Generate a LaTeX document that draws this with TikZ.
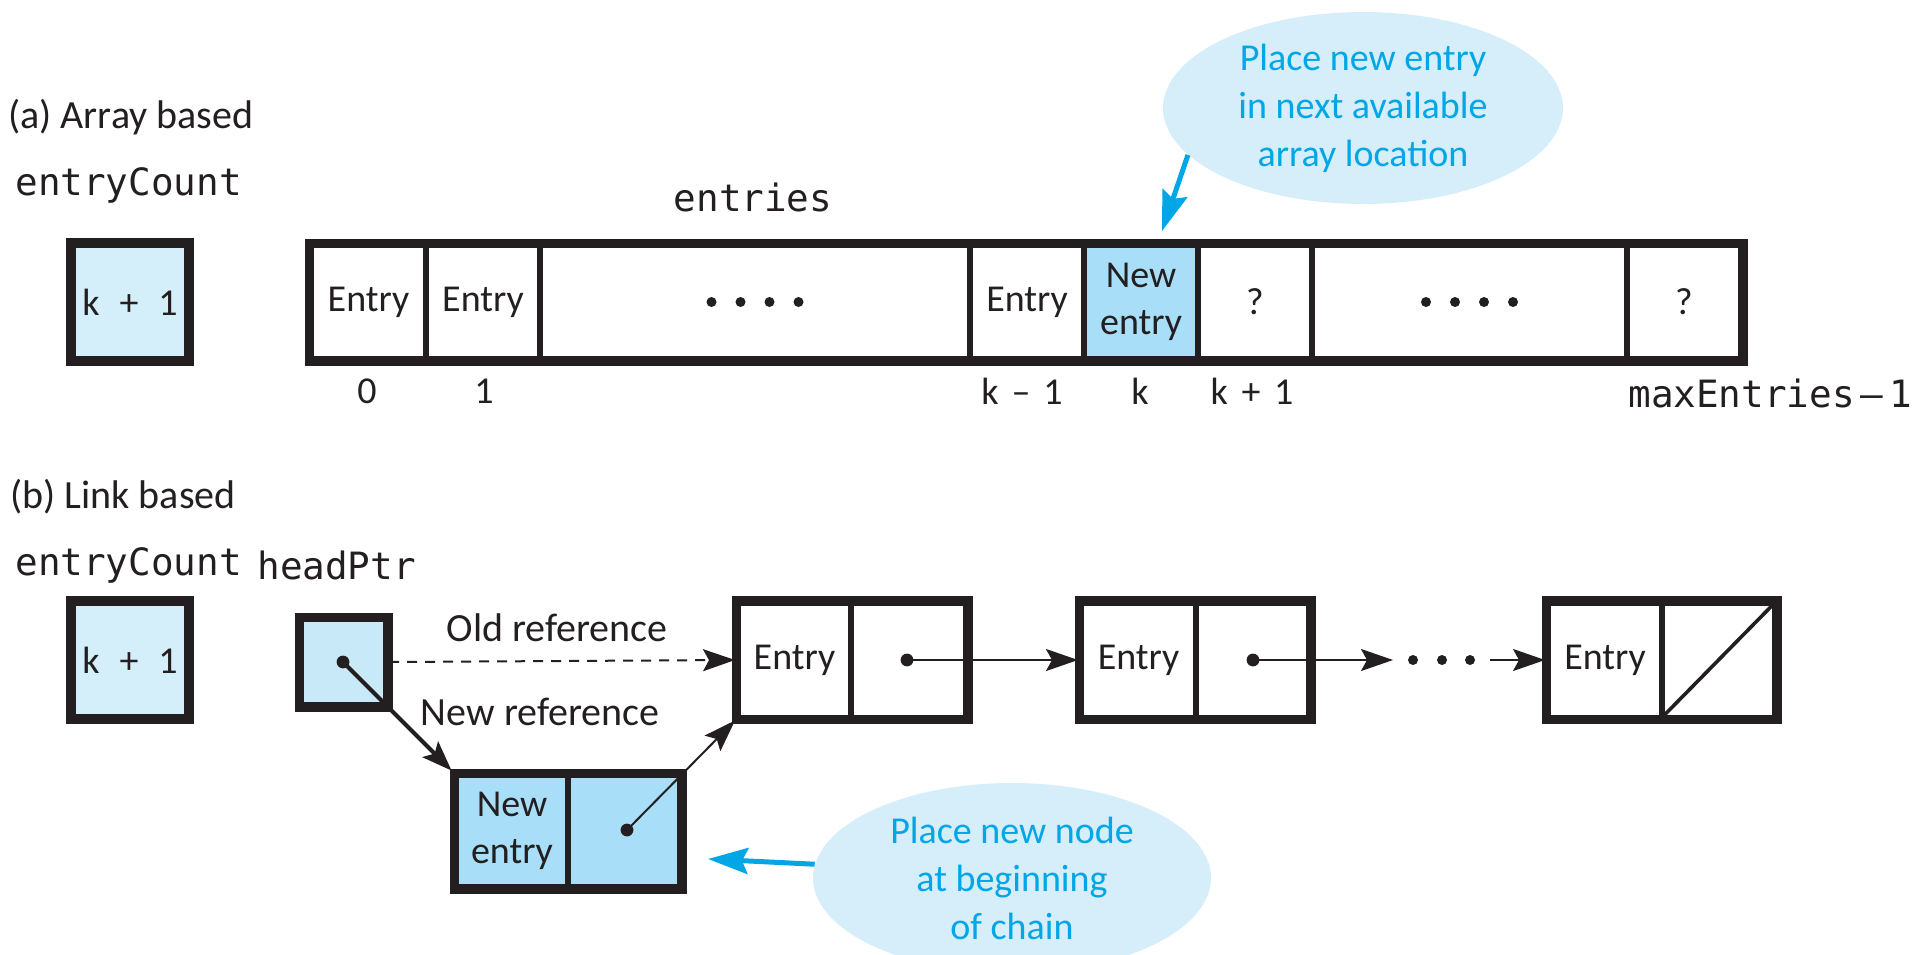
\documentclass[tikz,border=0pt]{standalone}
\usepackage{fontspec}
\setmainfont{Carlito}
\setmonofont{DejaVu Sans Mono}
\usetikzlibrary{arrows.meta,shapes.geometric}
\definecolor{ink}{RGB}{35,31,32}
\definecolor{cyanC}{RGB}{0,166,230}
\definecolor{paleB}{RGB}{212,238,250}
\definecolor{ptrB}{RGB}{200,233,248}
\definecolor{newB}{RGB}{168,222,247}
\definecolor{ellB}{RGB}{213,238,250}
\begin{document}
\begin{tikzpicture}[x=0.5pt,y=-0.5pt,
  txt/.style={font=\fontsize{19}{23.5}\selectfont, text=ink, inner sep=0pt, align=center},
  head/.style={font=\fontsize{20}{24}\selectfont, text=ink, inner sep=0pt},
  mono/.style={font=\ttfamily\fontsize{18.8}{22}\selectfont, text=ink, inner sep=0pt},
  cell/.style={draw=ink, line width=3pt, inner sep=0pt, minimum height=57pt, align=center,
    font=\fontsize{19}{23.5}\selectfont, text=ink},
  lcell/.style={cell, minimum height=57.5pt},
  frame/.style={draw=ink, line width=3.5pt},
  ptdot/.style={circle, fill=ink, inner sep=0pt, minimum size=6.4pt},
  sdot/.style={circle, fill=ink, inner sep=0pt, minimum size=5pt},
  callout/.style={ellipse, fill=ellB, draw=none, inner sep=0pt, text=cyanC, align=center,
    font=\fontsize{19}{24}\selectfont},
  arr/.style={draw=ink, line width=1pt, -{Stealth[length=16pt,width=11pt,inset=3pt]}},
  thickarr/.style={draw=ink, line width=2pt, -{Stealth[length=15pt,width=11pt,inset=3pt]}},
  dasharr/.style={arr, dash pattern=on 5pt off 4pt},
  callarr/.style={draw=cyanC, line width=2.5pt, -{Stealth[length=20pt,width=13pt,inset=3pt]}}
]
\useasboundingbox (0,0) rectangle (1920,954);

% ---------- (a) Array based ----------
\node[head, anchor=west] (ha) at (8,117) {(a) Array based};
\node[mono, anchor=west] (eca) at (15,185) {entryCount};
\node[mono] (ent) at (753,197) {entries};

\node[cell, fill=paleB, minimum width=57pt, line width=3.25pt] (ca) at (130,302) {k\hspace{10pt}+\hspace{10pt}1};

\node[cell, minimum width=57.5pt] (a0) at (368.5,302) {Entry};
\node[cell, minimum width=57pt] (a1) at (483,302) {Entry};
\node[cell, minimum width=215pt] (ad1) at (755,302) {};
\node[cell, minimum width=57pt] (ak1) at (1027,302) {Entry};
\node[cell, minimum width=57pt, fill=newB] (ak) at (1141,302) {New\\entry};
\node[cell, minimum width=57pt] (ak2) at (1255,302) {?};
\node[cell, minimum width=157.5pt] (ad2) at (1469.5,302) {};
\node[cell, minimum width=57pt] (am) at (1684,302) {?};
\draw[frame] (a0.north west) rectangle (am.south east);
\draw[frame] (ca.north west) rectangle (ca.south east);

\foreach \dx in {-43.5,-14.5,14.5,43.5} {
  \fill[ink] (755+\dx,302) circle[radius=2.5pt];
  \fill[ink] (1469.5+\dx,302) circle[radius=2.5pt];
}

\node[txt] (i0) at (367,391) {0};
\node[txt] (i1) at (484,391) {1};
\node[txt] (ik1) at (1022,391) {k\hspace{6.5pt}–\hspace{6.5pt}1};
\node[txt] (ik) at (1140,391) {k};
\node[txt] (ik2) at (1252,391) {k\hspace{6.8pt}+\hspace{6.8pt}1};
\node[mono, anchor=west] (im) at (1628,393) {maxEntries\hspace{3pt}–\hspace{3pt}1};

\node[callout, minimum width=200pt, minimum height=96pt] (e1) at (1363,108)
  {Place new entry\\in next available\\array location};
\coordinate (tip1) at (1162,231);
\draw[callarr] (e1.195) -- (tip1);

% ---------- (b) Link based ----------
\node[head, anchor=west] (hb) at (10,497) {(b) Link based};
\node[mono, anchor=west] (ecb) at (15,565) {entryCount};
\node[mono, anchor=west] (hpl) at (257,565) {headPtr};

\node[cell, fill=paleB, minimum width=57pt, line width=3.25pt] (cb) at (130,660) {k\hspace{10pt}+\hspace{10pt}1};
\draw[frame] (cb.north west) rectangle (cb.south east);

\node[cell, fill=ptrB, minimum width=42.5pt, minimum height=43pt] (hp) at (343.5,662) {};
\draw[frame] (hp.north west) rectangle (hp.south east);
\node[ptdot] (dhp) at (343,662) {};

% node 1
\node[lcell, minimum width=56.5pt] (n1a) at (794.5,660) {Entry};
\node[lcell, minimum width=57.5pt] (n1b) at (908.5,660) {};
\draw[frame] (n1a.north west) rectangle (n1b.south east);
\node[ptdot] (d1) at (907,660) {};
% node 2
\node[lcell, minimum width=57.5pt] (n2a) at (1138.5,660) {Entry};
\node[lcell, minimum width=56.5pt] (n2b) at (1252.5,660) {};
\draw[frame] (n2a.north west) rectangle (n2b.south east);
\node[ptdot] (d2) at (1253,660) {};
% node 3
\node[lcell, minimum width=57pt] (n3a) at (1605,660) {Entry};
\node[lcell, minimum width=56.5pt] (n3b) at (1718.5,660) {};
\draw[frame] (n3a.north west) rectangle (n3b.south east);
\draw[ink, line width=1.8pt] (n3b.south west) -- (n3b.north east);
% new node
\node[lcell, fill=newB, minimum width=56pt, minimum height=56pt] (nna) at (512,831) {New\\entry};
\node[lcell, fill=newB, minimum width=56pt, minimum height=56pt] (nnb) at (624,831) {};
\draw[frame] (nna.north west) rectangle (nnb.south east);
\node[ptdot] (dnn) at (627,830) {};

% links
\draw[dasharr] (hp.east) -- (n1a.west);
\node[head] (oldref) at (557,628) {Old reference};
\draw[thickarr, shorten >=1pt] (dhp.center) -- (nna.north west);
\node[head] (newref) at (540,712) {New reference};
\draw[arr] (dnn.center) -- (n1a.south west);
\draw[arr] (d1.center) -- (n2a.west);
\coordinate (c2) at (1393,660);
\draw[arr] (d2.center) -- (c2);
\node[sdot] (e_1) at (1413,660) {};
\node[sdot] (e_2) at (1442,660) {};
\node[sdot] (e_3) at (1470,660) {};
\coordinate (c3) at (1490,660);
\draw[arr] (c3) -- (n3a.west);

\node[callout, minimum width=199pt, minimum height=95pt] (e2) at (1012,878)
  {Place new node\\at beginning\\of chain};
\coordinate (tip2) at (708,859);
\draw[callarr] (e2.176) -- (tip2);
\end{tikzpicture}
\end{document}
